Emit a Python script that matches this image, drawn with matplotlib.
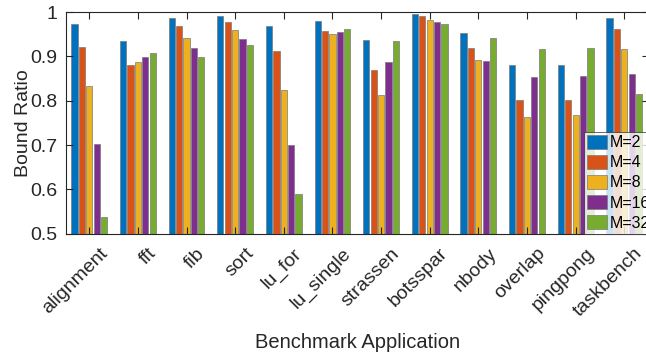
import numpy as np
from matplotlib import pyplot as plt
from matplotlib.transforms import ScaledTranslation

plt.rcParams['font.family'] = ['Liberation Sans', 'DejaVu Sans']

# benchmark names (x categories)
apps = ["alignment", "fft", "fib", "sort", "lu_for", "lu_single",
        "strassen", "botsspar", "nbody", "overlap", "pingpong", "taskbench"]

# bound ratio per M value
m2 = [0.973, 0.935, 0.987, 0.992, 0.969, 0.980, 0.937, 0.996, 0.952, 0.881, 0.880, 0.987]
m4 = [0.921, 0.881, 0.969, 0.977, 0.913, 0.957, 0.869, 0.992, 0.918, 0.802, 0.801, 0.962]
m8 = [0.833, 0.887, 0.941, 0.959, 0.824, 0.951, 0.813, 0.983, 0.892, 0.764, 0.768, 0.917]
m16 = [0.702, 0.898, 0.918, 0.939, 0.701, 0.956, 0.887, 0.977, 0.889, 0.854, 0.857, 0.860]
m32 = [0.538, 0.907, 0.898, 0.926, 0.590, 0.963, 0.935, 0.974, 0.941, 0.917, 0.919, 0.816]

series = [m2, m4, m8, m16, m32]
labels = ["M=2", "M=4", "M=8", "M=16", "M=32"]
colors = ["#0072BD", "#D95319", "#EDB120", "#7E2F8E", "#77AC30"]

fig = plt.figure(figsize=(6.46, 3.57), dpi=100)
# axes run slightly past the right edge, like the exported original
ax = fig.add_axes([0.102, 0.345, 0.902, 0.621])

x = np.arange(1, len(apps) + 1)
step = 0.152
width = 0.128
for i, (vals, lab, col) in enumerate(zip(series, labels, colors)):
    ax.bar(x + (i - 2) * step, vals, width, color=col, label=lab,
           edgecolor="#7a7a7a", linewidth=0.5)

ax.set_xlim(0.52, 12.5)
ax.set_ylim(0.5, 1.0)
ax.set_yticks([0.5, 0.6, 0.7, 0.8, 0.9, 1.0])
ax.set_yticklabels(["0.5", "0.6", "0.7", "0.8", "0.9", "1"])
ax.set_xticks(x)
ax.set_xticklabels(apps, rotation=45, ha="right", va="top",
                   rotation_mode="anchor")
ax.tick_params(direction="in", length=5, width=0.8, top=True, right=True,
               labelsize=14, color="#262626", labelcolor="#262626", pad=6)
ax.tick_params(axis="x", pad=8)
# nudge the rotated labels to the right, as in the original
shift = ScaledTranslation(7 / 72, 0, fig.dpi_scale_trans)
for t in ax.get_xticklabels():
    t.set_transform(t.get_transform() + shift)
for s in ax.spines.values():
    s.set_color("#262626")
    s.set_linewidth(0.8)

ax.set_xlabel("Benchmark Application", fontsize=14.5, color="#262626", labelpad=9)
ax.set_ylabel("Bound Ratio", fontsize=14, color="#262626", labelpad=-1)

leg = ax.legend(loc="lower left", bbox_to_anchor=(584 / 646, 123 / 357),
                bbox_transform=fig.transFigure, fontsize=11.5,
                frameon=True, fancybox=False, borderpad=0.2, labelspacing=0.3,
                handlelength=1.25, handleheight=0.95, handletextpad=0.15,
                borderaxespad=0.0)
leg.get_frame().set_edgecolor("#262626")
leg.get_frame().set_linewidth(0.6)

fig.savefig("out.png", dpi=100)
